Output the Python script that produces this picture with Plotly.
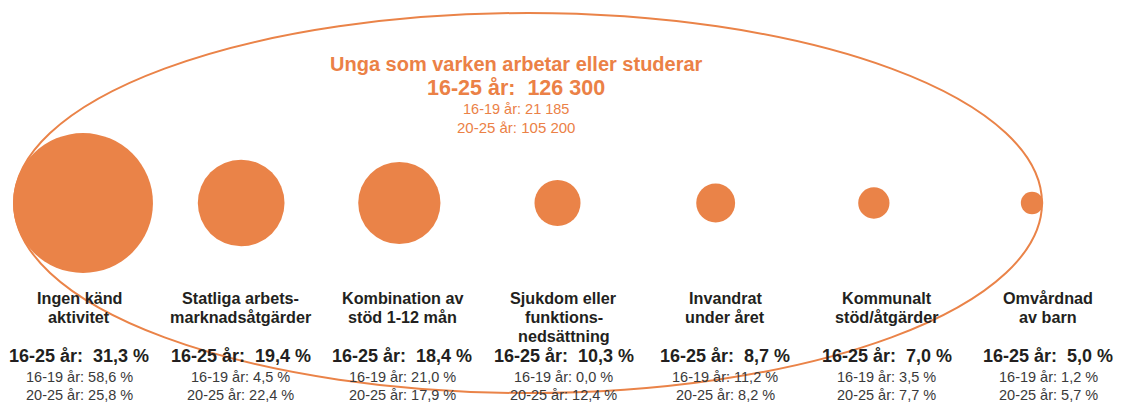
import plotly.graph_objects as go

# ---- data ----
categories = [
    "Ingen känd<br>aktivitet",
    "Statliga arbets-<br>marknadsåtgärder",
    "Kombination av<br>stöd 1-12 mån",
    "Sjukdom eller<br>funktions-<br>nedsättning",
    "Invandrat<br>under året",
    "Kommunalt<br>stöd/åtgärder",
    "Omvårdnad<br>av barn",
]
share_16_25 = [31.3, 19.4, 18.4, 10.3, 8.7, 7.0, 5.0]
share_16_19 = [58.6, 4.5, 21.0, 0.0, 11.2, 3.5, 1.2]
share_20_25 = [25.8, 22.4, 17.9, 12.4, 8.2, 7.7, 5.7]

title_text = "Unga som varken arbetar eller studerar"
total_16_25 = "126 300"
total_16_19 = "21 185"
total_20_25 = "105 200"

# ---- style / layout constants ----
W, H = 1122, 404
ORANGE = "#EA8348"
ORANGE_TXT = "#EB8146"
DARK = "#231F20"
GREY = "#3A3A3A"
FONT = "Liberation Sans"

circ_x0, circ_dx = 83.0, 158.17   # px of first circle centre, spacing
circ_y = 203                       # px
px_per_pct = 4.47                  # circle diameter per percent
text_x0, text_dx = 79.0, 161.5     # px of text column centres
label_y0, label_dy = 298, 19       # px of first label line, line spacing


def fmt(v):
    return f"{v:.1f}".replace(".", ",")


def px(x):
    return x / W


def py(y):
    return 1 - y / H


fig = go.Figure()

idx = list(range(len(categories)))
fig.add_trace(go.Scatter(
    x=idx,
    y=[circ_y] * len(idx),
    mode="markers",
    marker=dict(
        size=share_16_25,
        sizemode="diameter",
        sizeref=1 / px_per_pct,
        color=ORANGE,
        line=dict(width=0),
        opacity=1,
    ),
    hoverinfo="skip",
    showlegend=False,
))

annotations = []

# title block
annotations += [
    dict(x=px(516), y=py(64), text=f"<b>{title_text}</b>",
         font=dict(family=FONT, size=20, color=ORANGE_TXT)),
    dict(x=px(516), y=py(88), text=f"<b>16-25 år:\u00a0 {total_16_25}</b>",
         font=dict(family=FONT, size=21.5, color=ORANGE_TXT)),
    dict(x=px(516), y=py(108.5), text=f"16-19 år: {total_16_19}",
         font=dict(family=FONT, size=14.5, color=ORANGE_TXT)),
    dict(x=px(516), y=py(127), text=f"20-25 år: {total_20_25}",
         font=dict(family=FONT, size=15, color=ORANGE_TXT)),
]

for i, cat in enumerate(categories):
    cx = text_x0 + text_dx * i
    for k, line in enumerate(cat.split("<br>")):
        annotations.append(
            dict(x=px(cx), y=py(label_y0 + label_dy * k),
                 text=f"<b>{line}</b>",
                 font=dict(family=FONT, size=16.2, color=DARK)))
    annotations += [
        dict(x=px(cx), y=py(356),
             text=f"<b>16-25 år:\u00a0 {fmt(share_16_25[i])} %</b>",
             font=dict(family=FONT, size=18, color=DARK)),
        dict(x=px(cx), y=py(377),
             text=f"16-19 år: {fmt(share_16_19[i])} %",
             font=dict(family=FONT, size=14.5, color=GREY)),
        dict(x=px(cx), y=py(395),
             text=f"20-25 år: {fmt(share_20_25[i])} %",
             font=dict(family=FONT, size=14.5, color=GREY)),
    ]

for a in annotations:
    a.update(xref="paper", yref="paper", showarrow=False,
             xanchor="center", yanchor="middle", align="center", borderpad=0)

# enclosing ellipse
fig.add_shape(type="circle", xref="paper", yref="paper",
              x0=px(14), x1=px(1042), y0=py(393), y1=py(13),
              line=dict(color=ORANGE, width=2), layer="below")

fig.update_layout(
    width=W, height=H,
    margin=dict(l=0, r=0, t=0, b=0),
    paper_bgcolor="white", plot_bgcolor="white",
    xaxis=dict(range=[-circ_x0 / circ_dx, (W - circ_x0) / circ_dx],
               visible=False, fixedrange=True),
    yaxis=dict(range=[H, 0], visible=False, fixedrange=True),
    annotations=annotations,
    showlegend=False,
)

fig.write_html(
    "out.html",
    config={"displayModeBar": False},
    post_script="document.body.style.margin='0';document.body.style.overflow='hidden';",
)
